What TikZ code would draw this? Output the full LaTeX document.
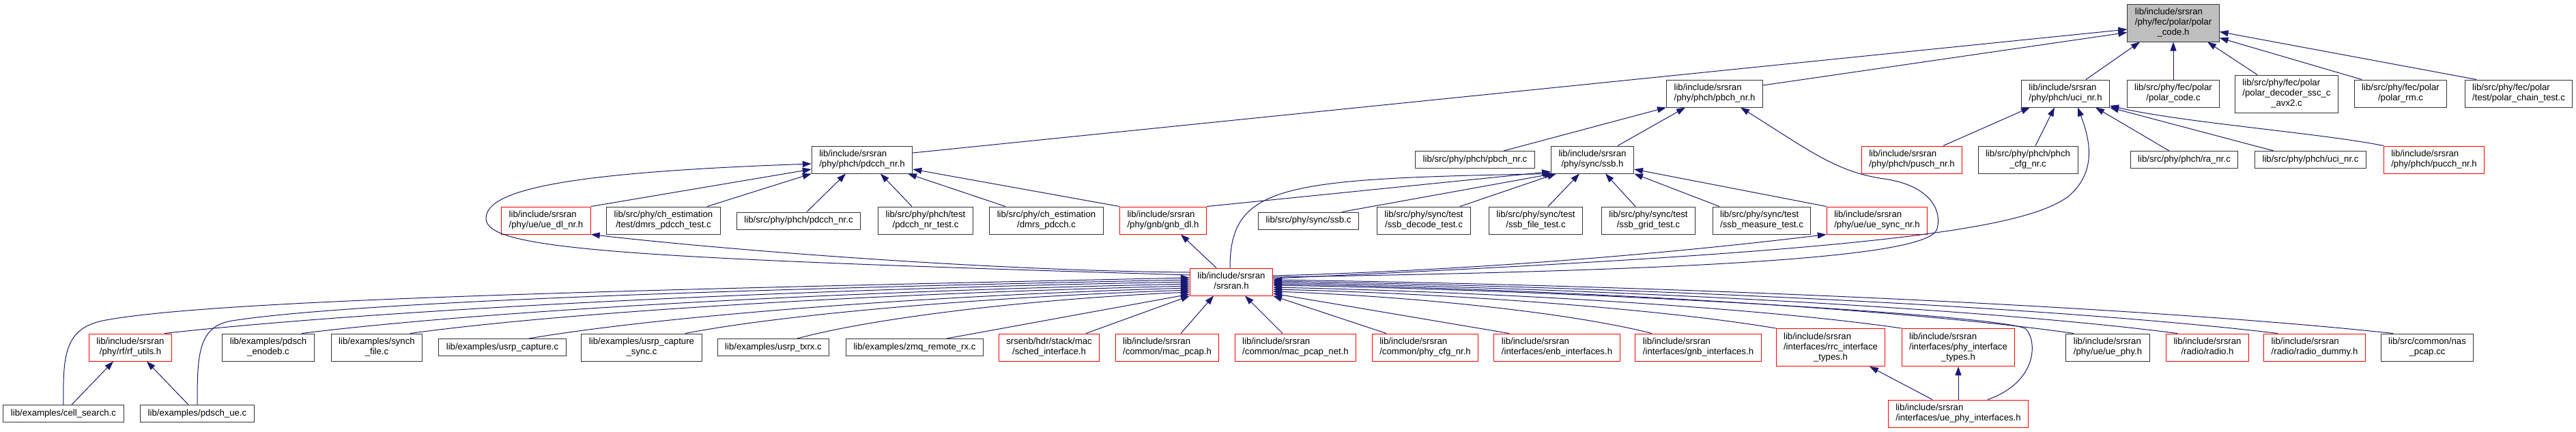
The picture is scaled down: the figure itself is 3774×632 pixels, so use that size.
\documentclass[tikz,border=0pt]{standalone}
\usepackage{fontspec}
\setmainfont{Liberation Sans}
\usepackage{tikz}
\usetikzlibrary{arrows.meta}
\definecolor{edgeblue}{HTML}{191970}
\definecolor{rootfill}{HTML}{BFBFBF}
\newcommand{\filefont}{\fontsize{13.2}{15}\selectfont}
\newcommand{\labone}[1]{\begin{tabular}{@{}c@{}}#1\end{tabular}}
\newcommand{\labtwo}[2]{\begin{tabular}{@{}l@{}}#1\\\multicolumn{1}{@{}c@{}}{#2}\end{tabular}}
\newcommand{\labthree}[3]{\begin{tabular}{@{}l@{}}#1\\#2\\\multicolumn{1}{@{}c@{}}{#3}\end{tabular}}
\tikzset{
  file/.style   ={draw=black!80,line width=1pt,fill=white,inner xsep=11pt,inner ysep=5pt,font=\filefont},
  cut/.style    ={file,draw=red},
  root/.style   ={file,fill=rootfill},
  incedge/.style={draw=edgeblue,line width=1pt,{Triangle[length=13pt,width=9pt]}-},
}
\begin{document}
\begin{tikzpicture}[x=1pt,y=-1pt]
  \useasboundingbox (0,0) rectangle (3774,632);
  % top rows
  \node[root] (pc) at (3184,33.5) {\labthree{lib/include/srsran}{/phy/fec/polar/polar}{\_code.h}};
  \node[file] (pbchh) at (2512,137) {\labtwo{lib/include/srsran}{/phy/phch/pbch\_nr.h}};
  \node[file] (ucih) at (3026,137) {\labtwo{lib/include/srsran}{/phy/phch/uci\_nr.h}};
  \node[file] (pcc) at (3184,137) {\labtwo{lib/src/phy/fec/polar}{/polar\_code.c}};
  \node[file] (pdec) at (3350,137.5) {\labthree{lib/src/phy/fec/polar}{/polar\_decoder\_ssc\_c}{\_avx2.c}};
  \node[file] (prm) at (3517,137) {\labtwo{lib/src/phy/fec/polar}{/polar\_rm.c}};
  \node[file] (pchain) at (3690,137) {\labtwo{lib/src/phy/fec/polar}{/test/polar\_chain\_test.c}};
  \node[file] (pdcchh) at (1263,234) {\labtwo{lib/include/srsran}{/phy/phch/pdcch\_nr.h}};
  \node[file] (pbchc) at (2161,234) {\labone{lib/src/phy/phch/pbch\_nr.c}};
  \node[file] (ssbh) at (2333,234) {\labtwo{lib/include/srsran}{/phy/sync/ssb.h}};
  \node[cut] (pusch) at (2801,234) {\labtwo{lib/include/srsran}{/phy/phch/pusch\_nr.h}};
  \node[file] (pcfg) at (2971,234) {\labtwo{lib/src/phy/phch/phch}{\_cfg\_nr.c}};
  \node[file] (ranr) at (3200,234) {\labone{lib/src/phy/phch/ra\_nr.c}};
  \node[file] (ucic) at (3385,234) {\labone{lib/src/phy/phch/uci\_nr.c}};
  \node[cut] (pucch) at (3566,234) {\labtwo{lib/include/srsran}{/phy/phch/pucch\_nr.h}};
  \node[cut] (uedl) at (800,323) {\labtwo{lib/include/srsran}{/phy/ue/ue\_dl\_nr.h}};
  \node[file] (dmrst) at (972,323) {\labtwo{lib/src/phy/ch\_estimation}{/test/dmrs\_pdcch\_test.c}};
  \node[file] (pdcchc) at (1170,323.5) {\labone{lib/src/phy/phch/pdcch\_nr.c}};
  \node[file] (pdccht) at (1356,323) {\labtwo{lib/src/phy/phch/test}{/pdcch\_nr\_test.c}};
  \node[file] (dmrs) at (1533,323) {\labtwo{lib/src/phy/ch\_estimation}{/dmrs\_pdcch.c}};
  \node[cut] (gnbdl) at (1704,323) {\labtwo{lib/include/srsran}{/phy/gnb/gnb\_dl.h}};
  \node[file] (ssbc) at (1917,323.5) {\labone{lib/src/phy/sync/ssb.c}};
  \node[file] (ssbdec) at (2086,323) {\labtwo{lib/src/phy/sync/test}{/ssb\_decode\_test.c}};
  \node[file] (ssbfile) at (2250,323) {\labtwo{lib/src/phy/sync/test}{/ssb\_file\_test.c}};
  \node[file] (ssbgrid) at (2415,323) {\labtwo{lib/src/phy/sync/test}{/ssb\_grid\_test.c}};
  \node[file] (ssbmeas) at (2581,323) {\labtwo{lib/src/phy/sync/test}{/ssb\_measure\_test.c}};
  \node[cut] (uesync) at (2750,323) {\labtwo{lib/include/srsran}{/phy/ue/ue\_sync\_nr.h}};
  \node[cut] (srsran) at (1804,413) {\labtwo{lib/include/srsran}{/srsran.h}};
  % bottom rows
  \node[cut] (rfutil) at (191,509) {\labtwo{lib/include/srsran}{/phy/rf/rf\_utils.h}};
  \node[file] (enodeb) at (393,509) {\labtwo{lib/examples/pdsch}{\_enodeb.c}};
  \node[file] (synch) at (552,509) {\labtwo{lib/examples/synch}{\_file.c}};
  \node[file] (ucap) at (736,509) {\labone{lib/examples/usrp\_capture.c}};
  \node[file] (ucaps) at (940,509) {\labtwo{lib/examples/usrp\_capture}{\_sync.c}};
  \node[file] (txrx) at (1133,509) {\labone{lib/examples/usrp\_txrx.c}};
  \node[file] (zmq) at (1340,509) {\labone{lib/examples/zmq\_remote\_rx.c}};
  \node[cut] (sched) at (1537,509) {\labtwo{srsenb/hdr/stack/mac}{/sched\_interface.h}};
  \node[cut] (macp) at (1710,509) {\labtwo{lib/include/srsran}{/common/mac\_pcap.h}};
  \node[cut] (macpn) at (1898,509) {\labtwo{lib/include/srsran}{/common/mac\_pcap\_net.h}};
  \node[cut] (phycfg) at (2088,509) {\labtwo{lib/include/srsran}{/common/phy\_cfg\_nr.h}};
  \node[cut] (enbif) at (2281,509) {\labtwo{lib/include/srsran}{/interfaces/enb\_interfaces.h}};
  \node[cut] (gnbif) at (2488,509) {\labtwo{lib/include/srsran}{/interfaces/gnb\_interfaces.h}};
  \node[cut] (rrct) at (2682,509) {\labthree{lib/include/srsran}{/interfaces/rrc\_interface}{\_types.h}};
  \node[cut] (phyt) at (2869,509) {\labthree{lib/include/srsran}{/interfaces/phy\_interface}{\_types.h}};
  \node[file] (uephy) at (3088,509) {\labtwo{lib/include/srsran}{/phy/ue/ue\_phy.h}};
  \node[cut] (radio) at (3234,509) {\labtwo{lib/include/srsran}{/radio/radio.h}};
  \node[cut] (rdummy) at (3391,509) {\labtwo{lib/include/srsran}{/radio/radio\_dummy.h}};
  \node[file] (naspcap) at (3556,509) {\labtwo{lib/src/common/nas}{\_pcap.cc}};
  \node[file] (cellsrch) at (93,606) {\labone{lib/examples/cell\_search.c}};
  \node[file] (pdschue) at (289,606) {\labone{lib/examples/pdsch\_ue.c}};
  \node[cut] (uephyif) at (2869,606) {\labtwo{lib/include/srsran}{/interfaces/ue\_phy\_interfaces.h}};
  % polar_code.h
  \draw[incedge] ([yshift=-9.5pt]pc.west) -- ([yshift=10pt]pdcchh.east);
  \draw[incedge] ([yshift=-14pt]pc.west) -- ([yshift=12pt]pbchh.east);
  \draw[incedge] ([xshift=-49pt]pc.south) -- ([xshift=30pt]ucih.north);
  \draw[incedge] (pc.south) -- (pcc.north);
  \draw[incedge] ([xshift=50pt]pc.south) -- ([xshift=-43pt]pdec.north);
  \draw[incedge] ([yshift=-22pt]pc.east) -- ([xshift=-57pt]prm.north);
  \draw[incedge] ([yshift=-13pt]pc.east) -- ([xshift=-62pt]pchain.north);
  % pbch_nr.h and uci_nr.h
  \draw[incedge] ([xshift=-43pt]pbchh.south) -- ([xshift=37pt]ssbh.north);
  \draw[incedge] (pbchh.south west) -- ([xshift=42pt]pbchc.north);
  \draw[incedge] ([xshift=-52pt]ucih.south) -- ([xshift=46pt]pusch.north);
  \draw[incedge] ([xshift=-16pt]ucih.south) -- ([xshift=11pt]pcfg.north);
  \draw[incedge] ([xshift=44pt]ucih.south) -- ([xshift=-22pt]ranr.north);
  \draw[incedge] (ucih.south east) -- ([xshift=-54pt]ucic.north);
  \draw[incedge] ([yshift=-18pt]ucih.east) .. controls (3200,180) and (3400,195) .. (pucch.north west);
  % pdcch_nr.h
  \draw[incedge] ([yshift=-14pt]pdcchh.west) -- (uedl.north east);
  \draw[incedge] (pdcchh.south west) -- ([xshift=64pt]dmrst.north);
  \draw[incedge] ([xshift=-24pt]pdcchh.south) -- ([xshift=12pt]pdcchc.north);
  \draw[incedge] ([xshift=27pt]pdcchh.south) -- ([xshift=-20pt]pdccht.north);
  \draw[incedge] ([xshift=67pt]pdcchh.south) -- ([xshift=-60pt]dmrs.north);
  \draw[incedge] ([yshift=-14pt]pdcchh.east) -- (gnbdl.north west);
  % ssb.h
  \draw[incedge] ([yshift=3pt]ssbh.south west) -- (gnbdl.north east);
  \draw[incedge] ([xshift=4pt]ssbh.south west) -- ([xshift=49pt]ssbc.north);
  \draw[incedge] ([xshift=8pt]ssbh.south west) -- ([xshift=53pt]ssbdec.north);
  \draw[incedge] ([xshift=-19pt]ssbh.south) -- ([xshift=18pt]ssbfile.north);
  \draw[incedge] ([xshift=19pt]ssbh.south) -- ([xshift=-19pt]ssbgrid.north);
  \draw[incedge] (ssbh.south east) -- ([xshift=-62pt]ssbmeas.north);
  \draw[incedge] ([yshift=-14pt]ssbh.east) -- (uesync.north west);
  % srsran.h includes
  \draw[incedge] ([yshift=-6pt]pdcchh.west) .. controls (850,252) and (712,275) .. (712,320)
    .. controls (712,365) and (900,378) .. ([yshift=10pt]srsran.west);
  \draw[incedge] (uedl.south east) .. controls (1050,365) and (1450,397) .. ([yshift=14pt]srsran.west);
  \draw[incedge] ([xshift=26pt]gnbdl.south) -- ([xshift=-22pt]srsran.north);
  \draw[incedge] ([xshift=2pt]ssbh.south west) .. controls (1880,262) and (1802,270) .. ([xshift=-2pt]srsran.north);
  \draw[incedge] (uesync.south west) .. controls (2500,365) and (2200,395) .. ([yshift=9pt]srsran.east);
  \draw[incedge] ([xshift=38pt]pbchh.south) .. controls (2650,220) and (2690,252) .. (2760,262)
    .. controls (2830,272) and (2845,310) .. (2838,335) .. controls (2830,370) and (2600,395) .. ([yshift=7pt]srsran.east);
  \draw[incedge] ([xshift=18pt]ucih.south) .. controls (3060,200) and (3075,250) .. (3030,288)
    .. controls (2960,340) and (2700,370) .. ([yshift=5pt]srsran.east);
  % srsran.h included by, left
  \draw[incedge] ([yshift=6pt]srsran.west) .. controls (900,425) and (300,440) .. (150,470)
    .. controls (95,482) and (92,520) .. (cellsrch.north);
  \draw[incedge] ([yshift=3pt]srsran.west) .. controls (1000,425) and (500,445) .. (340,470)
    .. controls (290,478) and (289,520) .. (pdschue.north);
  \draw[incedge] (srsran.west) .. controls (1143,424) and (541,455) .. ([xshift=50pt]rfutil.north);
  \draw[incedge] ([yshift=-3pt]srsran.west) .. controls (1223,427) and (702,456) .. ([xshift=49pt]enodeb.north);
  \draw[incedge] ([yshift=-6pt]srsran.west) .. controls (1287,430) and (830,457) .. ([xshift=49pt]synch.north);
  \draw[incedge] ([yshift=-9pt]srsran.west) .. controls (1356,433) and (969,463) .. ([xshift=39pt]ucap.north);
  \draw[incedge] ([yshift=-12pt]srsran.west) .. controls (1448,435) and (1152,460) .. ([xshift=64pt]ucaps.north);
  \draw[incedge] ([yshift=-15pt]srsran.west) .. controls (1514,438) and (1283,465) .. ([xshift=35pt]txrx.north);
  \draw[incedge] ([yshift=-18pt]srsran.west) -- ([xshift=47pt]zmq.north);
  \draw[incedge] (srsran.south west) -- ([xshift=54pt]sched.north);
  \draw[incedge] ([xshift=-26pt]srsran.south) -- ([xshift=20pt]macp.north);
  \draw[incedge] ([xshift=20pt]srsran.south) -- ([xshift=-19pt]macpn.north);
  % srsran.h included by, right
  \draw[incedge] (srsran.south east) -- ([xshift=-57pt]phycfg.north);
  \draw[incedge] ([yshift=-17pt]srsran.east) -- ([xshift=-70pt]enbif.north);
  \draw[incedge] ([yshift=-14pt]srsran.east) .. controls (2086,435) and (2309,460) .. ([xshift=-68pt]gnbif.north);
  \draw[incedge] ([yshift=-11pt]srsran.east) .. controls (2160,431) and (2455,456) .. (rrct.north west);
  \draw[incedge] ([yshift=-8pt]srsran.east) .. controls (2233,429) and (2602,454) .. (phyt.north west);
  \draw[incedge] ([yshift=-5pt]srsran.east) .. controls (2300,425) and (2940,462) .. (2968,482)
    .. controls (2985,500) and (2985,560) .. ([xshift=43pt]uephyif.north);
  \draw[incedge] ([yshift=-3pt]srsran.east) .. controls (2334,425) and (2803,455) .. ([xshift=-50pt]uephy.north);
  \draw[incedge] ([yshift=-1pt]srsran.east) .. controls (2394,424) and (2925,454) .. ([xshift=-44pt]radio.north);
  \draw[incedge] ([yshift=1pt]srsran.east) .. controls (2453,422) and (3042,453) .. ([xshift=-54pt]rdummy.north);
  \draw[incedge] ([yshift=3pt]srsran.east) .. controls (2521,420) and (3178,453) .. ([xshift=-50pt]naspcap.north);
  % lower level
  \draw[incedge] ([xshift=-25pt]rfutil.south) -- ([xshift=12pt]cellsrch.north);
  \draw[incedge] ([xshift=24pt]rfutil.south) -- ([xshift=-13pt]pdschue.north);
  \draw[incedge] ([xshift=57pt]rrct.south) -- ([xshift=-38pt]uephyif.north);
  \draw[incedge] (phyt.south) -- (uephyif.north);
\end{tikzpicture}
\end{document}
